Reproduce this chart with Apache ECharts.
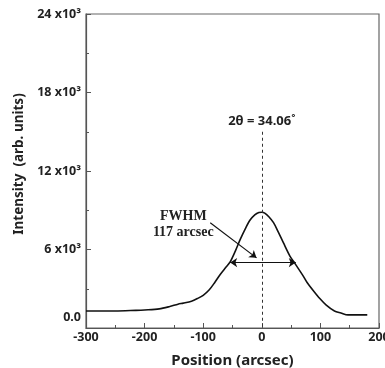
<!DOCTYPE html>
<html>
<head>
<meta charset="utf-8">
<script src="https://cdn.jsdelivr.net/npm/echarts@6/dist/echarts.min.js"></script>
<style>
  html, body { margin: 0; padding: 0; background: #fff; }
  #chart { width: 385px; height: 368px; }
</style>
</head>
<body>
<div id="chart"></div>
<script>
// rocking curve
const positions = [-300, -250, -215, -200, -175, -157, -143, -134, -120, -110, -100, -90, -80, -70, -62, -54, -45, -37, -28, -20, -12, -5, 0, 5, 12, 20, 28, 37, 48, 57, 71, 77, 88, 99, 110, 124, 135, 147, 160, 180];
const intensity = [1300, 1300, 1350, 1380, 1460, 1640, 1820, 1900, 2050, 2250, 2500, 2900, 3500, 4150, 4600, 5050, 5900, 6750, 7600, 8250, 8650, 8830, 8850, 8780, 8500, 8050, 7350, 6500, 5500, 4900, 3950, 3500, 2850, 2250, 1750, 1300, 1150, 1000, 1000, 1000];

const peakLabel = '2θ = 34.06˚';
const fwhmLabel = 'FWHM\n117 arcsec';
const fwhmLeft = -54;
const fwhmRight = 58;
const fwhmLevel = 5000;

const axisColor = '#555';
const labelFont = { fontFamily: 'Noto Sans', fontWeight: 'bold', fontSize: 12.5, color: '#222' };

const chart = echarts.init(document.getElementById('chart'));

const option = {
  animation: false,
  grid: {
    left: 86, right: 6, top: 14, bottom: 40,
    outerBoundsMode: 'none', containLabel: false,
    show: true, borderColor: '#666', borderWidth: 1.2
  },
  xAxis: {
    type: 'value', min: -300, max: 200, interval: 100,
    name: 'Position (arcsec)', nameLocation: 'middle', nameGap: 25,
    nameTextStyle: { fontFamily: 'Noto Sans', fontWeight: 'bold', fontSize: 15, color: '#222' },
    axisLine: { show: true, onZero: false, lineStyle: { color: axisColor, width: 1.2 } },
    axisTick: { inside: true, length: 5, lineStyle: { color: axisColor } },
    minorTick: { show: true, splitNumber: 2, length: 3, lineStyle: { color: axisColor } },
    axisLabel: { ...labelFont, margin: 3 },
    splitLine: { show: false }
  },
  yAxis: {
    type: 'value', min: 0, max: 24000, interval: 6000,
    name: 'Intensity  (arb. units)', nameLocation: 'middle', nameGap: 56,
    nameTextStyle: { fontFamily: 'Noto Sans', fontWeight: 'bold', fontSize: 13.5, color: '#222', padding: [0, 0, 0, 14] },
    axisLine: { show: true, onZero: false, lineStyle: { color: axisColor, width: 1.2 } },
    axisTick: { inside: true, length: 5, lineStyle: { color: axisColor } },
    minorTick: { show: true, splitNumber: 2, length: 3, lineStyle: { color: axisColor } },
    axisLabel: {
      ...labelFont, margin: 5,
      formatter: (v) => v === 0 ? '{z|0.0}' : (v / 1000) + ' x10³',
      rich: { z: { ...labelFont, padding: [0, 0, 22, 0] } }
    },
    splitLine: { show: false }
  },
  series: [
    {
      type: 'line',
      data: positions.map((p, i) => [p, intensity[i]]),
      showSymbol: false,
      smooth: 0.3,
      lineStyle: { color: '#111', width: 1.6 },
      markLine: {
        silent: true,
        symbol: 'none',
        label: { show: false },
        data: [
          [
            { coord: [0, 15000], lineStyle: { type: [3, 3], color: '#333', width: 1 },
              label: { show: true, position: 'start', formatter: peakLabel, distance: 4,
                fontFamily: 'Noto Sans', fontWeight: 'bold', fontSize: 13, color: '#222' } },
            { coord: [0, 0] }
          ],
          [
            { coord: [fwhmLeft, fwhmLevel], symbol: 'arrow', symbolSize: 7, lineStyle: { type: 'solid', color: '#111', width: 1.2 } },
            { coord: [fwhmRight, fwhmLevel], symbol: 'arrow', symbolSize: 7 }
          ],
          [
            { coord: [-88, 8050], symbol: 'none', lineStyle: { type: 'solid', color: '#111', width: 1.2 } },
            { coord: [-9, 5360], symbol: 'arrow', symbolSize: 7 }
          ]
        ]
      },
      markPoint: {
        silent: true,
        symbol: 'circle', symbolSize: 0,
        data: [{
          coord: [-134, 7900],
          label: {
            show: true, position: 'inside', formatter: fwhmLabel, align: 'center',
            fontFamily: 'Liberation Serif', fontWeight: 'bold', fontSize: 14, lineHeight: 16, color: '#222'
          }
        }]
      }
    }
  ]
};

chart.setOption(option);
</script>
</body>
</html>
